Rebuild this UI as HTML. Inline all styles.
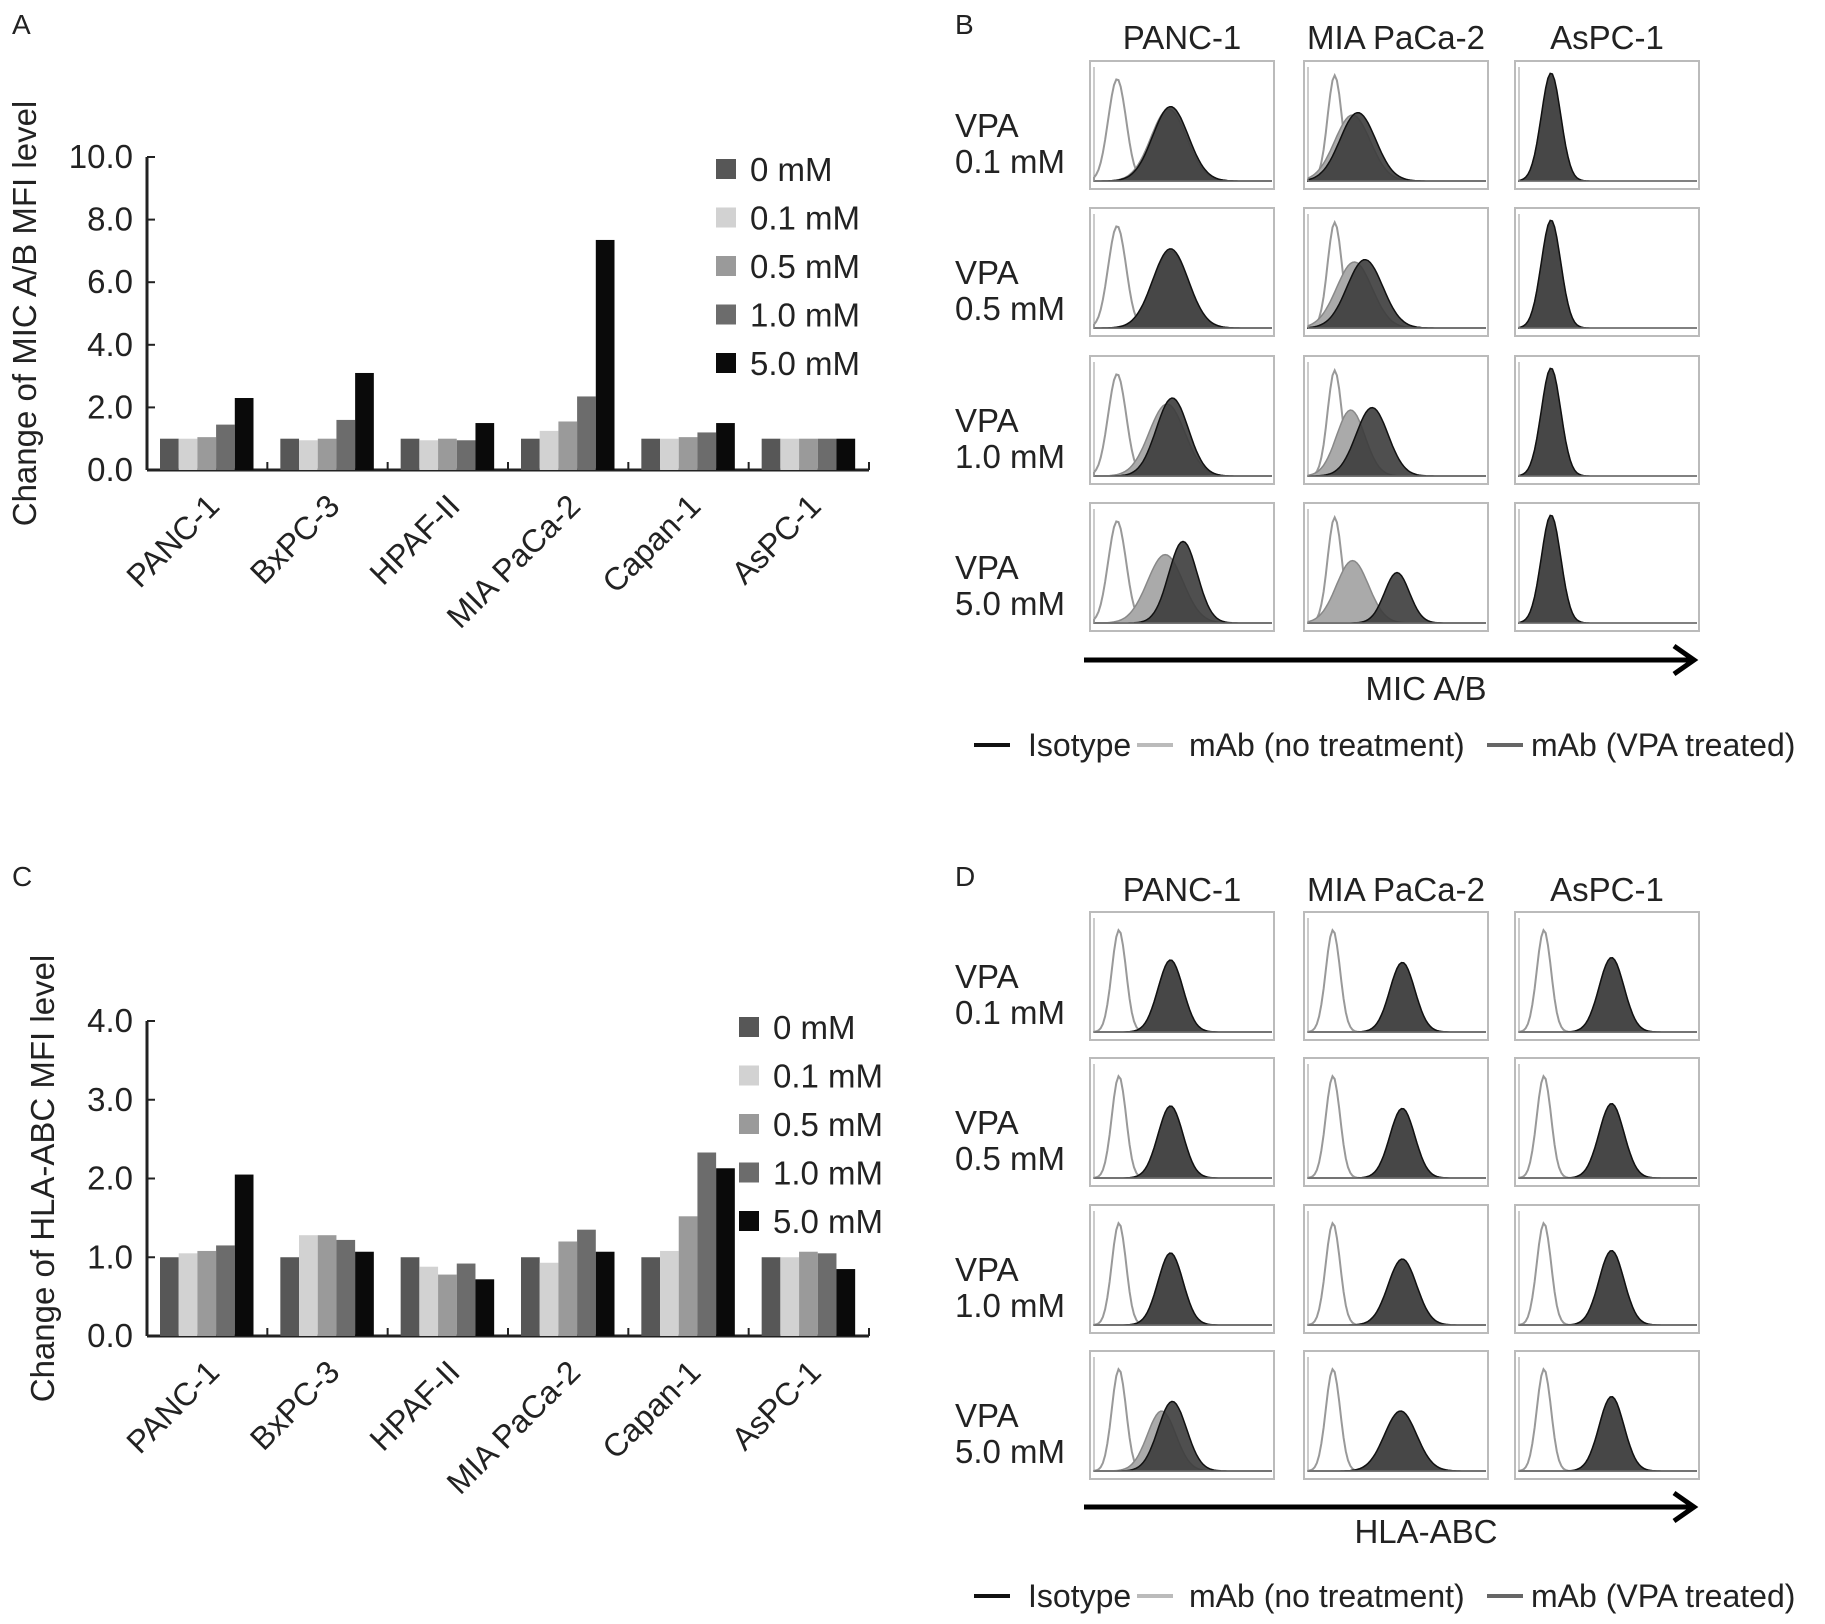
<!DOCTYPE html>
<html><head><meta charset="utf-8"><style>
body{margin:0;background:#fff;}
svg{display:block;font-family:"Liberation Sans",sans-serif;}
</style></head><body>
<svg id="fig" width="1825" height="1624" viewBox="0 0 1825 1624">
<text x="12" y="34" font-size="28" fill="#222">A</text>
<text x="12" y="886" font-size="28" fill="#222">C</text>
<text x="955" y="34" font-size="28" fill="#222">B</text>
<text x="955" y="886" font-size="28" fill="#222">D</text>
<g id="gA"></g>
<g id="gC"></g>
<g id="gB"></g>
<g id="gD"></g>
</svg>
<script>
const NS="http://www.w3.org/2000/svg";
const categories=["PANC-1","BxPC-3","HPAF-II","MIA PaCa-2","Capan-1","AsPC-1"];
const doses=["0 mM","0.1 mM","0.5 mM","1.0 mM","5.0 mM"];
const doseColors=["#575757","#d2d2d2","#9a9a9a","#6c6c6c","#0a0a0a"];
const micValues=[[1.0,1.0,1.05,1.45,2.3],[1.0,0.95,1.0,1.6,3.1],[1.0,0.95,1.0,0.95,1.5],[1.0,1.25,1.55,2.35,7.35],[1.0,1.0,1.05,1.2,1.5],[1.0,1.0,1.0,1.0,1.0]];
const hlaValues=[[1.0,1.05,1.08,1.15,2.05],[1.0,1.28,1.28,1.22,1.07],[1.0,0.88,0.78,0.92,0.72],[1.0,0.93,1.2,1.35,1.07],[1.0,1.08,1.52,2.33,2.13],[1.0,1.0,1.07,1.05,0.85]];
const micTicks=[0,2,4,6,8,10];
const hlaTicks=[0,1,2,3,4];
const histCols=["PANC-1","MIA PaCa-2","AsPC-1"];
const histRows=["0.1 mM","0.5 mM","1.0 mM","5.0 mM"];
// peaks: [center, width, height] as fractions; per row, per col: iso, light, dark
const micPeaks=[
 [[[0.13,0.05,0.85],[0.42,0.1,0.6],[0.43,0.1,0.62]],[[0.15,0.04,0.88],[0.25,0.1,0.55],[0.28,0.1,0.57]],[[0.18,0.05,0.0],[0.18,0.055,0.88],[0.18,0.055,0.9]]],
 [[[0.13,0.05,0.85],[0.43,0.1,0.64],[0.43,0.1,0.66]],[[0.15,0.04,0.88],[0.26,0.1,0.55],[0.32,0.1,0.57]],[[0.18,0.05,0.0],[0.18,0.055,0.88],[0.18,0.055,0.9]]],
 [[[0.13,0.05,0.85],[0.41,0.1,0.6],[0.44,0.09,0.65]],[[0.15,0.04,0.88],[0.24,0.08,0.55],[0.36,0.09,0.57]],[[0.18,0.05,0.0],[0.18,0.055,0.88],[0.18,0.055,0.9]]],
 [[[0.13,0.05,0.85],[0.40,0.1,0.57],[0.50,0.08,0.68]],[[0.15,0.04,0.88],[0.25,0.09,0.52],[0.50,0.07,0.42]],[[0.18,0.05,0.0],[0.18,0.055,0.88],[0.18,0.055,0.9]]]
];
const hlaPeaks=[
 [[[0.14,0.04,0.85],[0.43,0.07,0.6],[0.43,0.07,0.6]],[[0.14,0.04,0.85],[0.53,0.07,0.58],[0.53,0.07,0.58]],[[0.14,0.04,0.85],[0.52,0.07,0.62],[0.52,0.07,0.62]]],
 [[[0.14,0.04,0.85],[0.43,0.07,0.6],[0.43,0.07,0.6]],[[0.14,0.04,0.85],[0.53,0.07,0.58],[0.53,0.07,0.58]],[[0.14,0.04,0.85],[0.52,0.07,0.62],[0.52,0.07,0.62]]],
 [[[0.14,0.04,0.85],[0.43,0.07,0.6],[0.43,0.07,0.6]],[[0.14,0.04,0.85],[0.53,0.08,0.55],[0.53,0.08,0.55]],[[0.14,0.04,0.85],[0.52,0.07,0.62],[0.52,0.07,0.62]]],
 [[[0.14,0.04,0.85],[0.38,0.08,0.5],[0.44,0.08,0.58]],[[0.14,0.04,0.85],[0.52,0.09,0.5],[0.52,0.09,0.5]],[[0.14,0.04,0.85],[0.52,0.07,0.62],[0.52,0.07,0.62]]]
];
function el(tag,attrs,parent,txt){const e=document.createElementNS(NS,tag);for(const k in attrs)e.setAttribute(k,attrs[k]);if(txt!==undefined)e.textContent=txt;parent.appendChild(e);return e;}

function barChart(gid,values,ticks,ymax,top,bottom,title,legX,legY0,legStep,titleX){
 const g=document.getElementById(gid);
 const x0=147,x1=869,gw=(x1-x0)/categories.length,bw=18.7,off=13;
 const ys=v=>bottom-(v/ymax)*(bottom-top);
 const ya=el('line',{x1:x0,y1:top,x2:x0,y2:bottom,stroke:'#222','stroke-width':3},g);
 
 const xa=el('line',{x1:x0,y1:bottom,x2:x1,y2:bottom,stroke:'#222','stroke-width':3},g);
 
 ticks.forEach(t=>{
  const y=ys(t);
  el('line',{x1:x0,y1:y,x2:x0+8,y2:y,stroke:'#222','stroke-width':2},g);
  const tl=el('text',{x:x0-14,y:y+11,'font-size':33,'text-anchor':'end',fill:'#222'},g,t.toFixed(1));
  
 });
 for(let i=0;i<=categories.length;i++){const x=x0+i*gw;el('line',{x1:x,y1:bottom,x2:x,y2:bottom-8,stroke:'#222','stroke-width':2},g);}
 categories.forEach((c,i)=>{
  values[i].forEach((v,j)=>{
   const r=el('rect',{x:x0+i*gw+off+j*bw,y:ys(v),width:bw,height:bottom-ys(v),fill:doseColors[j]},g);
   
   
  });
  const cx=x0+i*gw+gw/2+14,cy=bottom+38;
  const tl=el('text',{x:cx,y:cy,'font-size':32,'text-anchor':'end',fill:'#222',transform:`rotate(-45 ${cx} ${cy})`},g,c);
  
 });
 const tcy=(top+bottom)/2;
 const tt=el('text',{x:titleX,y:tcy,'font-size':33,'text-anchor':'middle',fill:'#222',transform:`rotate(-90 ${titleX} ${tcy})`},g,title);
 
 doses.forEach((d,j)=>{
  const y=legY0+j*legStep;
  const sq=el('rect',{x:legX,y:y-10,width:20,height:20,fill:doseColors[j]},g);
  
  const lt=el('text',{x:legX+34,y:y+12,'font-size':33,fill:'#222'},g,d);
  
 });
}
barChart('gA',micValues,micTicks,10,157,470,'Change of MIC A/B MFI level',716,169,48.5,36);
barChart('gC',hlaValues,hlaTicks,4,1021,1336,'Change of HLA-ABC MFI level',739,1027,48.5,54);

function curve(x,y,w,h,p){
 let d=`M${x},${y+h}`;
 const n=80;
 for(let i=0;i<=n;i++){const f=i/n;const v=p[2]*Math.exp(-Math.pow((f-p[0])/p[1],2)/2);d+=` L${(x+f*w).toFixed(1)},${(y+h-v*h).toFixed(1)}`;}
 return d+` L${x+w},${y+h} Z`;
}
function histGrid(gid,peaks,rowTops,headerY,arrowY,labelY,axisLabel,legY){
 const g=document.getElementById(gid);
 const colX=[1090,1304,1515],pw=184,ph=128;
 histCols.forEach((c,i)=>{const t=el('text',{x:colX[i]+pw/2,y:headerY,'font-size':33,'text-anchor':'middle',fill:'#222'},g,c);});
 histRows.forEach((r,ri)=>{
  const y=rowTops[ri];
  const t1=el('text',{x:955,y:y+76,'font-size':33,fill:'#222'},g,'VPA');
  el('text',{x:955,y:y+112,'font-size':33,fill:'#222'},g,r);
  colX.forEach((x,ci)=>{
   const p=peaks[ri][ci];
   const fr=el('rect',{x:x,y:y,width:pw,height:ph,fill:'#fff',stroke:'#bbb','stroke-width':2},g);
   
   const ix=x+4,iw=pw-6,ih=ph-8;
   if(p[0][2]>0){const a=el('path',{d:curve(ix,y,iw,ih,p[0]),fill:'none',stroke:'#999','stroke-width':2},g);}
   const b=el('path',{d:curve(ix,y,iw,ih,p[1]),fill:'#aaa',stroke:'#888','stroke-width':1.5},g);
   const c=el('path',{d:curve(ix,y,iw,ih,p[2]),fill:'#3c3c3c','fill-opacity':0.9,stroke:'#111','stroke-width':1.5},g);
   el('line',{x1:ix,y1:y+6,x2:ix,y2:y+ih,stroke:'#999','stroke-width':1},g);
   el('line',{x1:ix,y1:y+ih,x2:x+pw-2,y2:y+ih,stroke:'#999','stroke-width':1},g);
  });
 });
 const ar=el('path',{d:`M1084,${arrowY} L1692,${arrowY} M1674,${arrowY-14} L1694,${arrowY} L1674,${arrowY+14}`,stroke:'#000','stroke-width':5,fill:'none'},g);
 
 const al=el('text',{x:1426,y:labelY,'font-size':33,'text-anchor':'middle',fill:'#222'},g,axisLabel);
 
 const items=[[974,'#111','Isotype',1028],[1137,'#bbb','mAb (no treatment)',1189],[1487,'#666','mAb (VPA treated)',1531]];
 items.forEach(it=>{
  const l=el('line',{x1:it[0],y1:legY,x2:it[0]+36,y2:legY,stroke:it[1],'stroke-width':4},g);
  
  const t=el('text',{x:it[3],y:legY+11,'font-size':32,fill:'#222'},g,it[2]);
  
 });
}
histGrid('gB',micPeaks,[61,208,356,503],49,660,700,'MIC A/B',745);
histGrid('gD',hlaPeaks,[912,1058,1205,1351],901,1507,1543,'HLA-ABC',1596);
</script>
</body></html>
